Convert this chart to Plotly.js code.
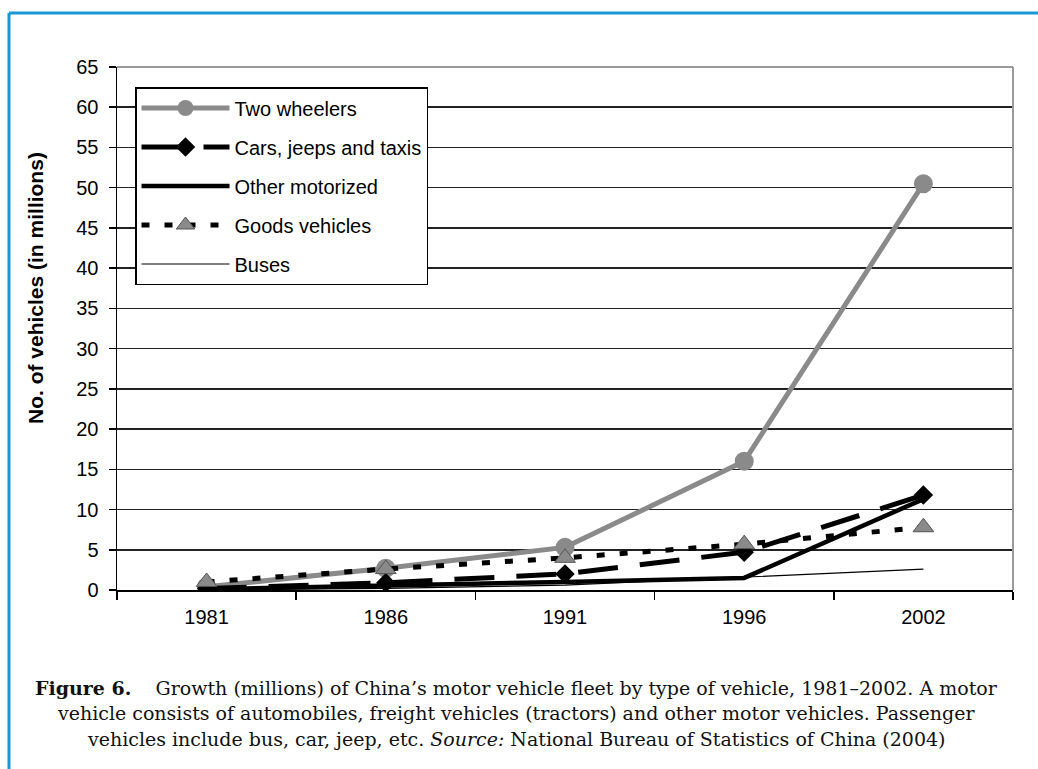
<!DOCTYPE html>
<html>
<head>
<meta charset="utf-8">
<script src="https://cdn.plot.ly/plotly-3.0.1.min.js"></script>
<style>
  html, body { margin: 0; padding: 0; background: #ffffff; }
  #chart { width: 1038px; height: 769px; }
</style>
</head>
<body>
<div id="chart"></div>
<script>
// ---- Data (millions of vehicles) ----
const years = ["1981", "1986", "1991", "1996", "2002"];
const twoWheelers = [0.4, 2.7, 5.3, 16.0, 50.5];
const carsJeepsTaxis = [0.2, 0.9, 2.0, 4.7, 11.8];
const otherMotorized = [0.1, 0.5, 1.0, 1.5, 11.3];
const goodsVehicles = [1.0, 2.6, 4.0, 5.7, 7.8];
const buses = [0.05, 0.2, 0.6, 1.6, 2.6];
const yTicks = [0, 5, 10, 15, 20, 25, 30, 35, 40, 45, 50, 55, 60, 65];

const seriesNames = ["Two wheelers", "Cars, jeeps and taxis", "Other motorized", "Goods vehicles", "Buses"];
const yAxisTitle = "No. of vehicles (in millions)";
const captionLines = [
  "<b>Figure 6.</b>\u00a0\u00a0\u00a0 Growth (millions) of China\u2019s motor vehicle fleet by type of vehicle, 1981\u20132002. A motor",
  "vehicle consists of automobiles, freight vehicles (tractors) and other motor vehicles. Passenger",
  "vehicles include bus, car, jeep, etc. <i>Source:</i> National Bureau of Statistics of China (2004)"
];

// ---- Geometry helpers (pixel -> paper) ----
const W = 1038, H = 769;
const L = 117, R = 1013, T = 67, B = 590;
const px = x => (x - L) / (R - L);
const py = y => (B - y) / (B - T);
const sans = "Liberation Sans, Arial, sans-serif";

const traces = [
  {
    x: years, y: twoWheelers, name: seriesNames[0], legendgroup: "g1",
    mode: "lines+markers", type: "scatter",
    line: { color: "#8a8a8a", width: 5 },
    marker: { symbol: "circle", size: 19, color: "#8a8a8a" }
  },
  {
    x: years, y: carsJeepsTaxis, name: seriesNames[1], legendgroup: "g2",
    mode: "lines+markers", type: "scatter",
    line: { color: "#000000", width: 5, dash: "40px,22px" },
    marker: { symbol: "diamond", size: 15, color: "#000000" }
  },
  {
    x: years, y: otherMotorized, name: seriesNames[2], legendgroup: "g3",
    mode: "lines", type: "scatter",
    line: { color: "#000000", width: 4.5 }
  },
  {
    x: years, y: goodsVehicles, name: seriesNames[3], legendgroup: "g4",
    mode: "lines+markers", type: "scatter",
    line: { color: "#000000", width: 5, dash: "8px,15px" },
    marker: { symbol: "triangle-up", size: 18, color: "#8a8a8a", line: { color: "#555555", width: 1 } }
  },
  {
    x: years, y: buses, name: seriesNames[4], legendgroup: "g5",
    mode: "lines", type: "scatter",
    line: { color: "#000000", width: 1.2 }
  }
];

const blue = "#1a98d5";
const shapes = [
  // blue frame (left and top)
  { type: "line", xref: "paper", yref: "paper", x0: px(9), x1: px(9), y0: py(13), y1: py(769), line: { color: blue, width: 3 } },
  { type: "line", xref: "paper", yref: "paper", x0: px(9), x1: px(1038), y0: py(13), y1: py(13), line: { color: blue, width: 3 } },
  // gray plot border top and right
  { type: "line", xref: "paper", yref: "paper", x0: 0, x1: 1, y0: 1, y1: 1, line: { color: "#9a9a9a", width: 2 } },
  { type: "line", xref: "paper", yref: "paper", x0: 1, x1: 1, y0: 0, y1: 1, line: { color: "#9a9a9a", width: 2 } }
];

const captionY = [688, 713, 739];
const annotations = [
  {
    xref: "paper", yref: "paper", x: px(35), y: py(288),
    text: "<b>" + yAxisTitle + "</b>", textangle: -90, showarrow: false,
    xanchor: "center", yanchor: "middle",
    font: { family: sans, size: 21, color: "#000" }
  }
].concat(captionLines.map((t, i) => ({
  xref: "paper", yref: "paper", x: px(516), y: py(captionY[i]),
  text: t, showarrow: false, xanchor: "center", yanchor: "middle",
  font: { family: "DejaVu Serif, serif", size: 19, color: "#111" }
})));

const layout = {
  width: W, height: H,
  margin: { l: L, r: W - R, t: T, b: H - B, pad: 0 },
  paper_bgcolor: "#ffffff",
  plot_bgcolor: "#ffffff",
  showlegend: true,
  legend: {
    x: px(135), y: py(87), xanchor: "left", yanchor: "top",
    bgcolor: "#ffffff", bordercolor: "#000000", borderwidth: 1.5,
    font: { family: sans, size: 20, color: "#000" },
    traceorder: "grouped", tracegroupgap: 10, itemwidth: 88,
    itemclick: false
  },
  xaxis: {
    type: "category",
    range: [-0.5, 4.5],
    showgrid: false, zeroline: false,
    showline: true, linecolor: "#000000", linewidth: 1.5,
    ticks: "outside", tickson: "boundaries", ticklen: 8, tickwidth: 1.5, tickcolor: "#000",
    ticklabelstandoff: 8,
    tickfont: { family: sans, size: 20, color: "#000" },
    fixedrange: true
  },
  yaxis: {
    range: [0, 65],
    tickvals: yTicks,
    ticktext: yTicks.map(String),
    showgrid: true, gridcolor: "#222222", gridwidth: 1.5,
    zeroline: false,
    showline: true, linecolor: "#000000", linewidth: 1.5,
    ticks: "outside", ticklen: 7, tickwidth: 1.5, tickcolor: "#000",
    ticklabelstandoff: 6,
    tickfont: { family: sans, size: 20, color: "#000" },
    fixedrange: true
  },
  shapes: shapes,
  annotations: annotations
};

Plotly.newPlot("chart", traces, layout, { displayModeBar: false, staticPlot: true });
</script>
</body>
</html>
